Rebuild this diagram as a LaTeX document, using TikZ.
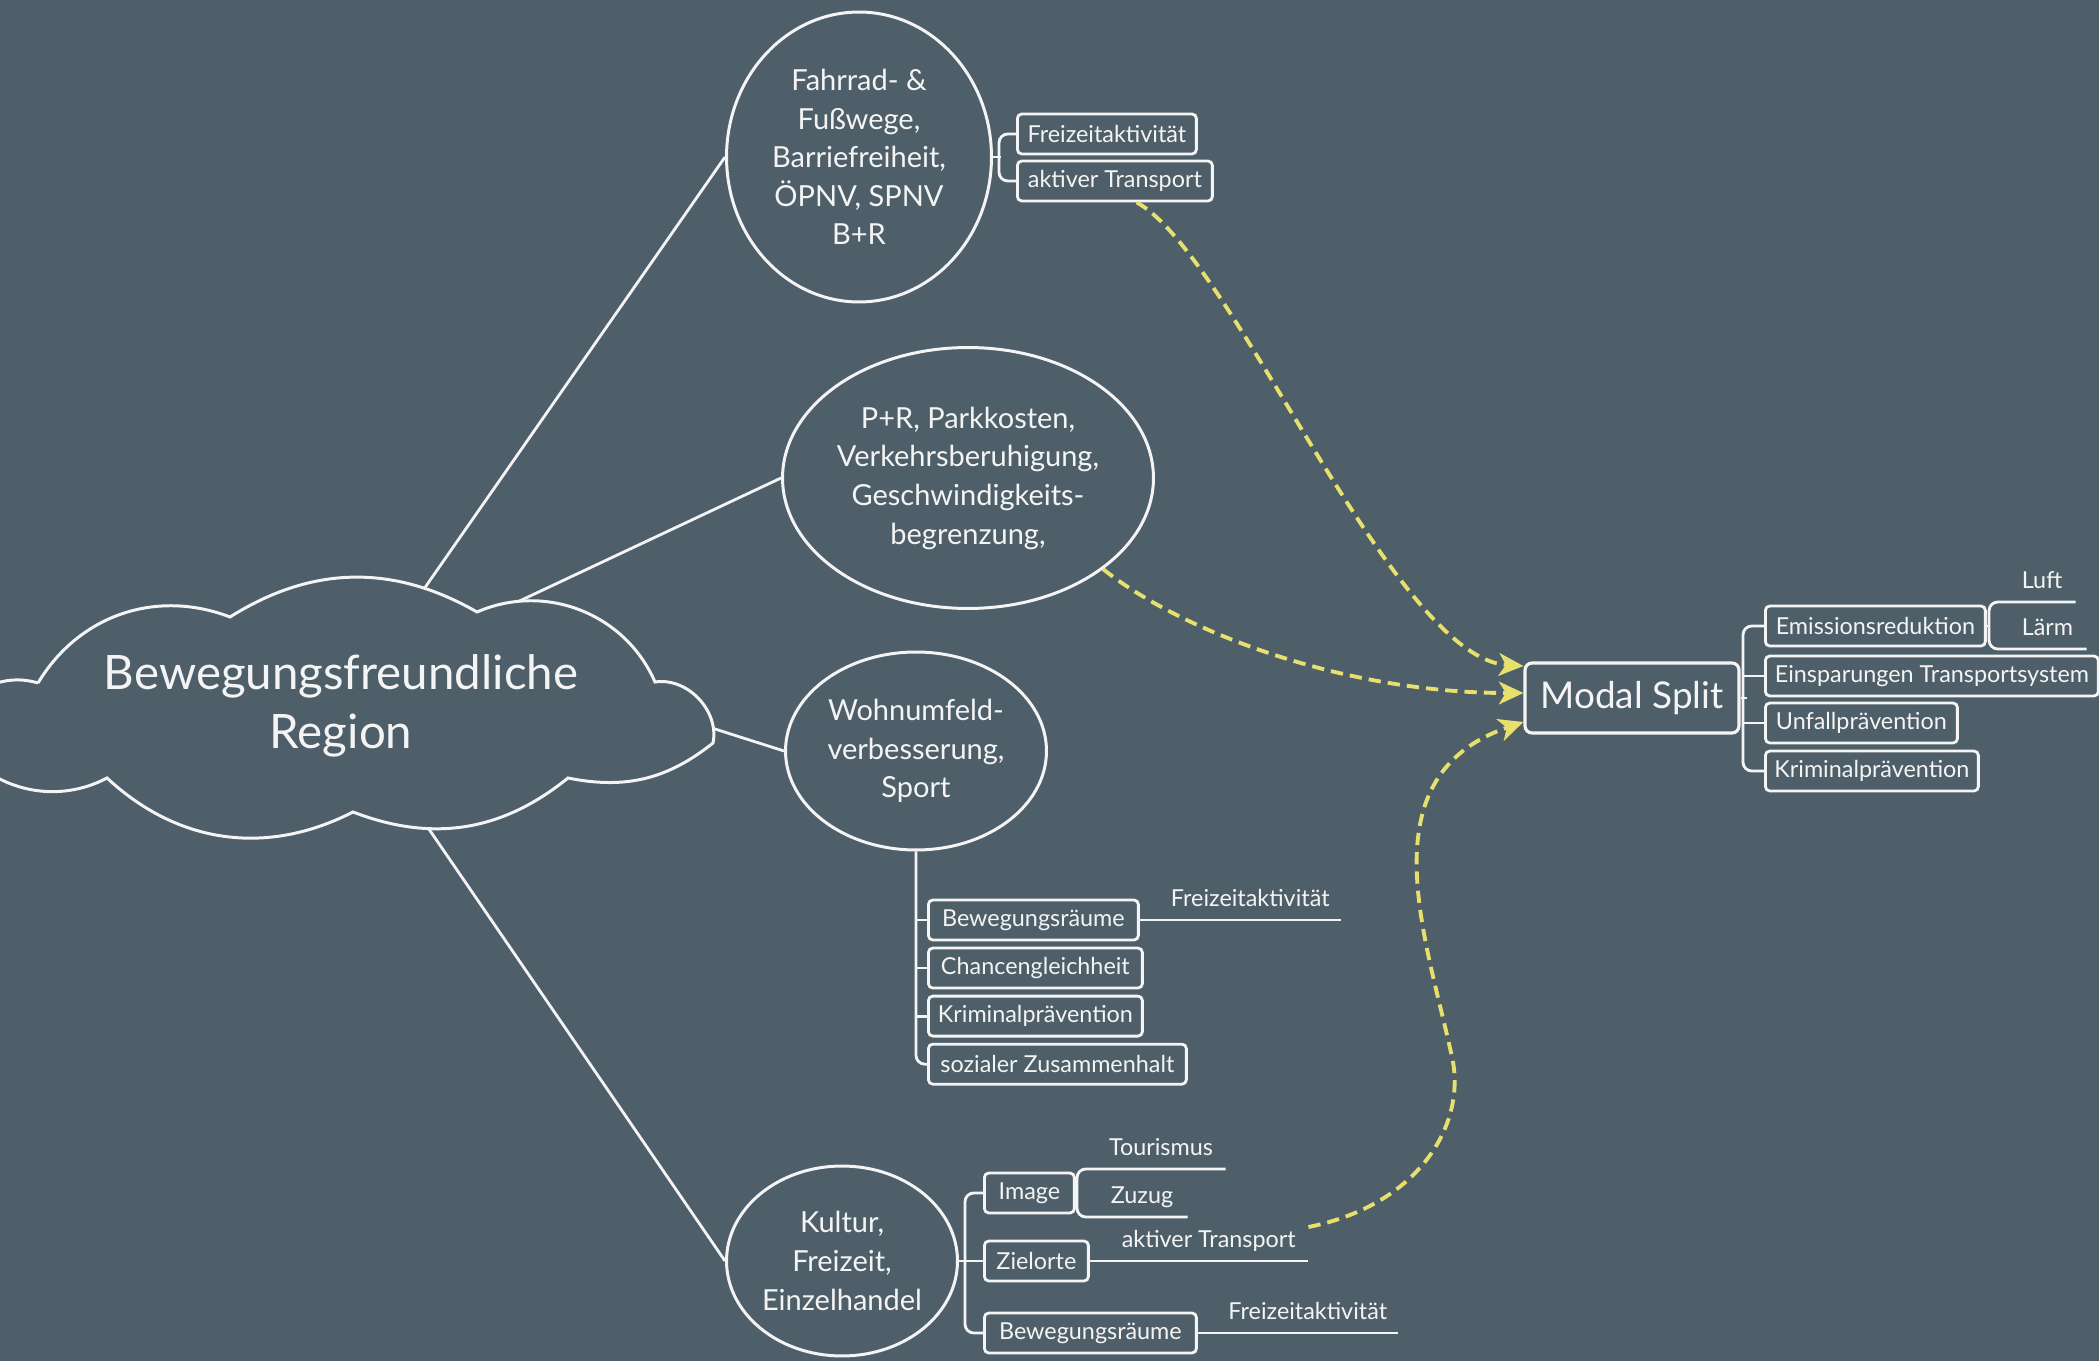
\documentclass[tikz,border=0pt]{standalone}
\usepackage{fontspec}
\setmainfont{Lato}
\usetikzlibrary{positioning, arrows.meta, shapes.geometric, calc}
\definecolor{slate}{HTML}{4E5F6A}
\definecolor{chalk}{HTML}{F4F4F4}
\definecolor{lemon}{HTML}{E8E06E}
\tikzset{
  regiontext/.style={
      text=chalk, align=center,
      font=\fontsize{27}{33.6}\selectfont
    },
  cloudline/.style={draw=chalk, line width=1.7pt},
  topic/.style={
      ellipse, draw=chalk, line width=1.7pt, text=chalk,
      align=center, inner sep=-4pt,
      font=\fontsize{16.5}{22}\selectfont
    },
  hub/.style={
      rectangle, rounded corners=4pt, draw=chalk, line width=1.8pt,
      text=chalk, font=\fontsize{21}{24}\selectfont,
      minimum width=4.28cm, minimum height=1.4cm
    },
  tag/.style={
      rectangle, rounded corners=2.5pt, draw=chalk, line width=1.6pt,
      text=chalk, font=\fontsize{13.3}{16}\selectfont,
      minimum height=0.8cm, inner xsep=3pt, inner ysep=0pt, anchor=west
    },
  leaf/.style={
      text=chalk, font=\fontsize{13.3}{16}\selectfont,
      inner xsep=0pt, inner ysep=4.6pt, text height=9.7pt, text depth=2.8pt,
      anchor=south west, execute at begin node={\hspace*{11pt}}
    },
  branch/.style={draw=chalk, line width=1.6pt},
  knot/.style={branch, rounded corners=5pt},
  link/.style={
      draw=lemon, line width=2.2pt, dash pattern=on 7pt off 4pt,
      -{Stealth[length=14pt,width=13pt,inset=4pt]}
    }
}

\begin{document}
\begin{tikzpicture}[x=0.02cm, y=-0.02cm]
  \fill[slate] (0,0) rectangle (2099,1361);
  \useasboundingbox (0,0) rectangle (2099,1361);

  % centre cloud
  \draw[cloudline] (38,683) to[bend left=40] (230,617)
    to[bend left=31] coordinate[pos=0.79] (rim1) (477,612)
    to[bend left=45] coordinate[pos=0.2] (rim2) (655,682)
    to[bend left=55] coordinate[pos=0.85] (rim3) (713,743)
    to[bend left=25] (568,778)
    to[bend left=30] coordinate[pos=0.67] (rim4) (353,812)
    to[bend left=35] (107,778)
    to[bend left=45] (-50,730)
    to[bend left=45] (38,683);
  \node[regiontext] (region) at (341,706) {Bewegungsfreundliche\\Region};

  % topics
  \node[topic, minimum width=5.3cm, minimum height=5.8cm] (fahrrad) at (859,157)
    {Fahrrad- \&\\Fußwege,\\Barriefreiheit,\\ÖPNV, SPNV\\B+R};
  \node[topic, minimum width=7.42cm, minimum height=5.22cm] (parken) at (968,478)
    {P+R, Parkkosten,\\Verkehrsberuhigung,\\Geschwindigkeits-\\begrenzung,};
  \node[topic, minimum width=5.22cm, minimum height=3.96cm] (wohn) at (916,751)
    {Wohnumfeld-\\verbesserung,\\Sport};
  \node[topic, minimum width=4.62cm, minimum height=3.8cm] (kultur) at (842,1261)
    {Kultur,\\Freizeit,\\Einzelhandel};
  \node[hub] (modal) at (1632,698) {Modal Split};

  \draw[branch] (rim1) -- (fahrrad.west);
  \draw[branch] (rim2) -- (parken.west);
  \draw[branch] (rim3) -- (wohn.west);
  \draw[branch] (rim4) -- (kultur.west);

  % Fahrrad- & Fusswege
  \node[tag, minimum width=3.58cm] (frei1) at (1016,134) {Freizeitaktivität};
  \node[tag, minimum width=3.9cm] (transport1) at (1016,181) {aktiver Transport};
  \draw[knot] (frei1.west) -- ++(-17,0) |- (transport1.west);
  \draw[branch] (fahrrad.east) -- ++(8,0);

  % Wohnumfeld
  \node[tag, minimum width=4.2cm] (bewraum1) at (927,920) {Bewegungsräume};
  \node[tag, minimum width=4.28cm, below=0.105cm of bewraum1.south west, anchor=north west] (chancen) {Chancengleichheit};
  \node[tag, minimum width=4.28cm, below=0.105cm of chancen.south west, anchor=north west] (krimi1) {Kriminalprävention};
  \node[tag, minimum width=5.16cm, below=0.105cm of krimi1.south west, anchor=north west] (sozial) {sozialer Zusammenhalt};
  \node[leaf, minimum width=4.02cm] (frei2) at (bewraum1.east) {Freizeitaktivität};
  \draw[knot] (wohn.south) |- (sozial.west);
  \draw[branch] (bewraum1.west) -- ++(-11,0) (chancen.west) -- ++(-11,0) (krimi1.west) -- ++(-11,0);
  \draw[branch] (bewraum1.east) -- (frei2.south east);

  % Kultur, Freizeit, Einzelhandel
  \node[tag, minimum width=1.8cm] (image) at (983,1193) {Image};
  \node[tag, minimum width=2.08cm] (ziel) at (983,1261) {Zielorte};
  \node[tag, minimum width=4.24cm] (bewraum2) at (983,1333) {Bewegungsräume};
  \node[leaf, minimum width=2.96cm] (tourismus) at (1077,1169) {Tourismus};
  \node[leaf, minimum width=2.2cm] (zuzug) at (1077,1217) {Zuzug};
  \node[leaf, minimum width=4.36cm] (ziellbl) at (ziel.east) {aktiver Transport};
  \node[leaf, minimum width=4.0cm] (frei3) at (bewraum2.east) {Freizeitaktivität};
  \draw[knot] (image.west) -- ++(-18,0) |- (bewraum2.west);
  \draw[branch] (kultur.east) -- (ziel.west);
  \draw[knot] (tourismus.south east) -- (tourismus.south west) -- (zuzug.south west) -- (zuzug.south east);
  \draw[branch] (image.east) -- (image.east -| tourismus.south west);
  \draw[branch] (ziel.east) -- (ziellbl.south east);
  \draw[branch] (bewraum2.east) -- (frei3.south east);

  % Modal Split
  \node[tag, minimum width=4.4cm] (emission) at (1764,626) {Emissionsreduktion};
  \node[tag, minimum width=6.66cm] (einspar) at (1764,676) {Einsparungen Transportsystem};
  \node[tag, minimum width=3.84cm] (unfall) at (1764,723) {Unfallprävention};
  \node[tag, minimum width=4.26cm] (krimi2) at (1764,771) {Kriminalprävention};
  \node[leaf, minimum width=1.72cm] (luft) at (1989,602) {Luft};
  \node[leaf, minimum width=1.94cm] (laerm) at (1989,649) {Lärm};
  \draw[knot] (emission.west) -- ++(-21,0) |- (krimi2.west);
  \draw[branch] (einspar.west) -- ++(-21,0) (unfall.west) -- ++(-21,0) (modal.east) -- ++(6,0);
  \draw[knot] (luft.south east) -- (luft.south west) -- (laerm.south west) -- (laerm.south east);
  \draw[branch] (emission.east) -- (emission.east -| luft.south west);

  % effects on the modal split
  \draw[link] ($(transport1.south west)!0.61!(transport1.south east)$)
    .. controls (1232,254) and (1392,658) .. ($(modal.west)+(0,-32)$);
  \draw[link] (parken.-34) .. controls (1178,629) and (1339,693) .. ($(modal.west)+(0,-5)$);
  \draw[link] ($(ziellbl.south east)+(0,-34)$)
    .. controls (1419,1205) and (1467,1124) .. (1452,1057)
    .. controls (1426,937) and (1365,776) .. ($(modal.west)+(0,24)$);
\end{tikzpicture}
\end{document}
